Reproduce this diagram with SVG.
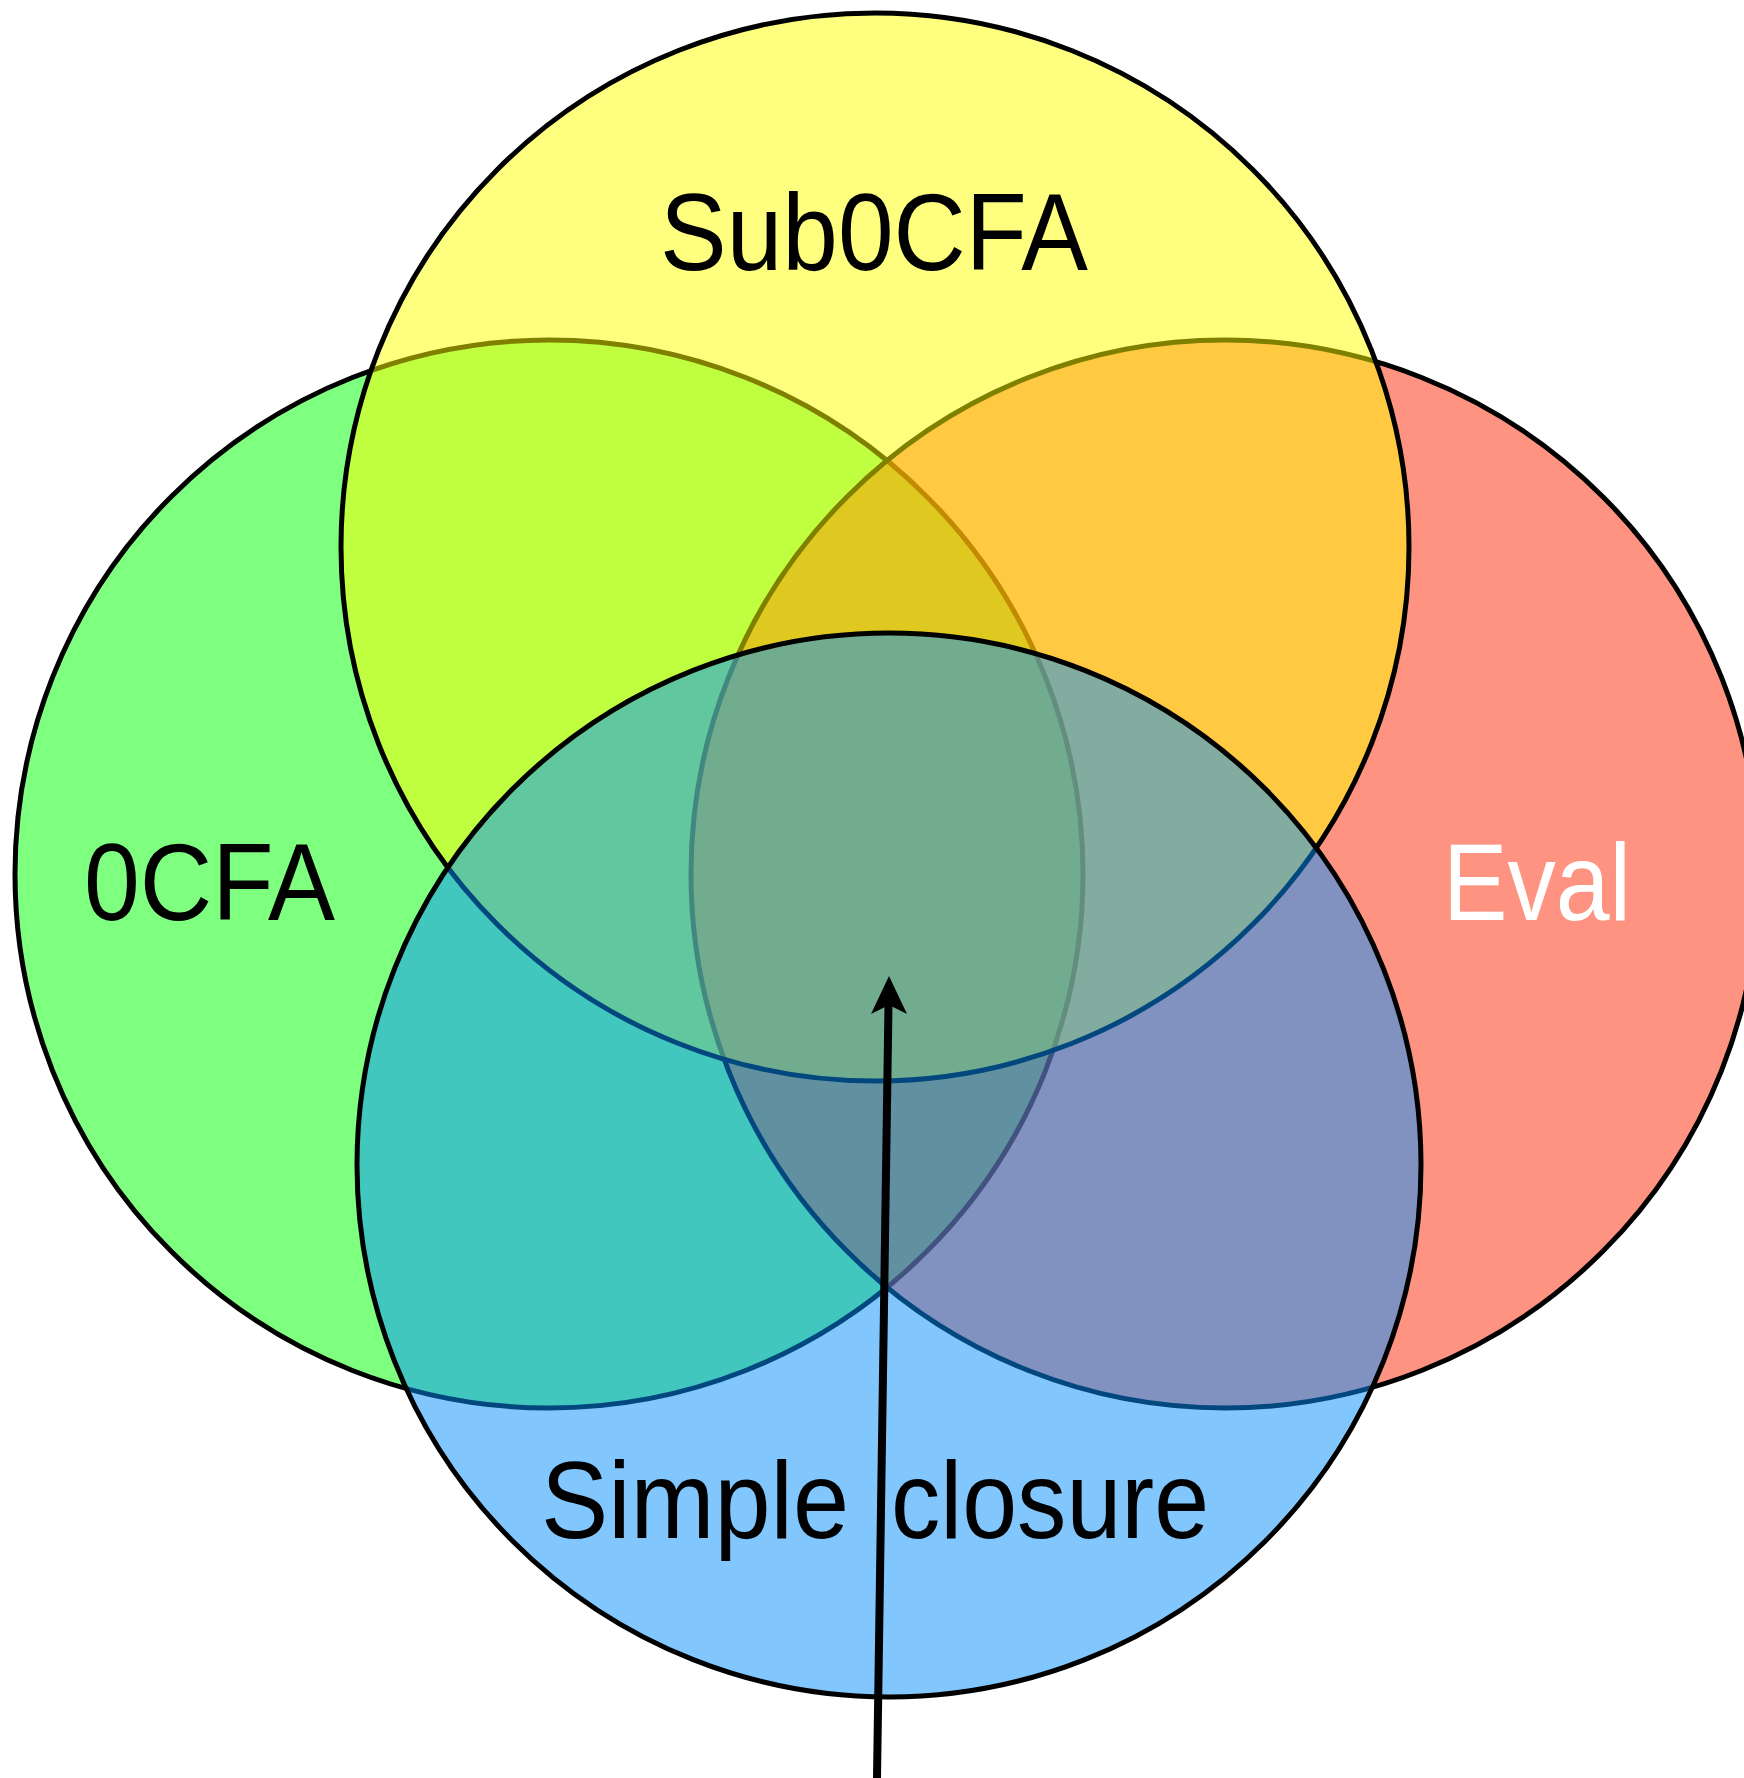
<svg xmlns="http://www.w3.org/2000/svg" width="1744" height="1778" viewBox="0 0 1744 1778">
  <style>
    .set { stroke: #000; stroke-width: 5; fill-opacity: 0.5; }
    .lbl { font-family: "Liberation Sans", Arial, sans-serif; font-size: 109px; }
  </style>
  <rect width="1744" height="1778" fill="#fff"/>
  <!-- sets, drawn in stacking order so later fills tint earlier outlines -->
  <g id="ocfa"><circle class="set" cx="549" cy="874" r="534" fill="#00ff00"/></g>
  <g id="eval"><circle class="set" cx="1225" cy="874" r="534" fill="#ff2805"/></g>
  <g id="sub0cfa"><circle class="set" cx="875" cy="547" r="534" fill="#ffff00"/></g>
  <g id="simple-closure"><circle class="set" cx="889" cy="1165" r="532" fill="#0490fd"/></g>
  <!-- labels -->
  <g id="labels" class="lbl">
    <text x="660" y="270" textLength="428" lengthAdjust="spacingAndGlyphs">Sub0CFA</text>
    <text x="84" y="920" textLength="251" lengthAdjust="spacingAndGlyphs">0CFA</text>
    <text x="1443" y="920" textLength="188" lengthAdjust="spacingAndGlyphs" fill="#fff">Eval</text>
    <text x="541" y="1538" textLength="308" lengthAdjust="spacingAndGlyphs">Simple</text>
    <text x="891" y="1538" textLength="318" lengthAdjust="spacingAndGlyphs">closure</text>
  </g>
  <!-- pointer into the common intersection -->
  <g id="connectors">
    <line x1="877" y1="1778" x2="888.5" y2="1004" stroke="#000" stroke-width="8"/>
    <path d="M889,976 L907,1014 L889,1005 L871,1014 Z" fill="#000"/>
  </g>
</svg>
